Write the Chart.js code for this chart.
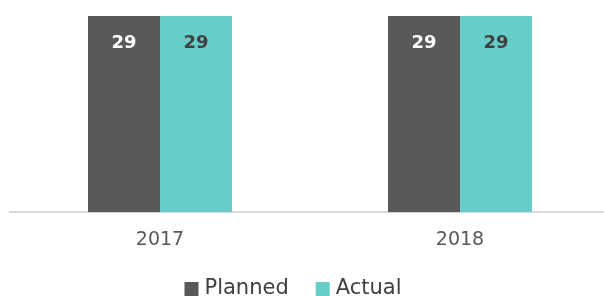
<!DOCTYPE html>
<html>
<head>
<meta charset="utf-8">
<script src="https://cdn.jsdelivr.net/npm/chart.js@4/dist/chart.umd.min.js"></script>
<style>
  html, body { margin: 0; padding: 0; background: #fff; overflow: hidden; }
  #wrap { width: 610px; height: 296px; }
</style>
</head>
<body>
<div id="wrap"><canvas id="chart"></canvas></div>
<script>
const categories = ["2017", "2018"];
const planned = [29, 29];
const actual = [29, 29];

const fontFamily = "'DejaVu Sans', sans-serif";

// values inside the top of each bar
const barLabels = {
    id: "barLabels",
    afterDatasetsDraw(chart) {
        const ctx = chart.ctx;
        ctx.save();
        ctx.font = "bold 18px " + fontFamily;
        ctx.textAlign = "center";
        ctx.textBaseline = "middle";
        chart.data.datasets.forEach((ds, i) => {
            chart.getDatasetMeta(i).data.forEach((bar, j) => {
                ctx.fillStyle = ds.labelColor;
                ctx.fillText(ds.data[j], bar.x, bar.y + 27);
            });
        });
        ctx.restore();
    }
};

// legend under the axis, drawn by hand so spacing matches
const bottomLegend = {
    id: "bottomLegend",
    afterDraw(chart) {
        const ctx = chart.ctx;
        const box = 14, gap = 6, itemGap = 27, cy = 289, cx = 293;
        ctx.save();
        ctx.font = "21px " + fontFamily;
        ctx.textBaseline = "middle";
        const items = chart.data.datasets.map(ds => ({ ds, w: ctx.measureText(ds.label).width }));
        const total = items.reduce((s, it) => s + box + gap + it.w, 0) + itemGap * (items.length - 1);
        let x = cx - total / 2;
        items.forEach(it => {
            ctx.fillStyle = it.ds.backgroundColor;
            ctx.fillRect(x, cy - box / 2, box, box);
            x += box + gap;
            ctx.fillStyle = "#404040";
            ctx.fillText(it.ds.label, x, cy);
            x += it.w + itemGap;
        });
        ctx.restore();
    }
};

new Chart(document.getElementById("chart"), {
    type: "bar",
    data: {
        labels: categories,
        datasets: [
            { label: "Planned", data: planned, backgroundColor: "#595959", labelColor: "#ffffff" },
            { label: "Actual", data: actual, backgroundColor: "#66CDC9", labelColor: "#404040" }
        ]
    },
    options: {
        responsive: true,
        maintainAspectRatio: false,
        animation: false,
        categoryPercentage: 0.48,
        barPercentage: 1,
        layout: { padding: { left: 10, right: 0, top: 16, bottom: 29 } },
        plugins: {
            legend: { display: false },
            tooltip: { enabled: false }
        },
        scales: {
            x: {
                grid: { display: false, drawTicks: false },
                border: { color: "#d9d9d9", width: 2 },
                ticks: { color: "#595959", padding: 16, font: { family: fontFamily, size: 19 } }
            },
            y: {
                display: false,
                min: 0,
                max: 29
            }
        }
    },
    plugins: [barLabels, bottomLegend]
});
</script>
</body>
</html>
